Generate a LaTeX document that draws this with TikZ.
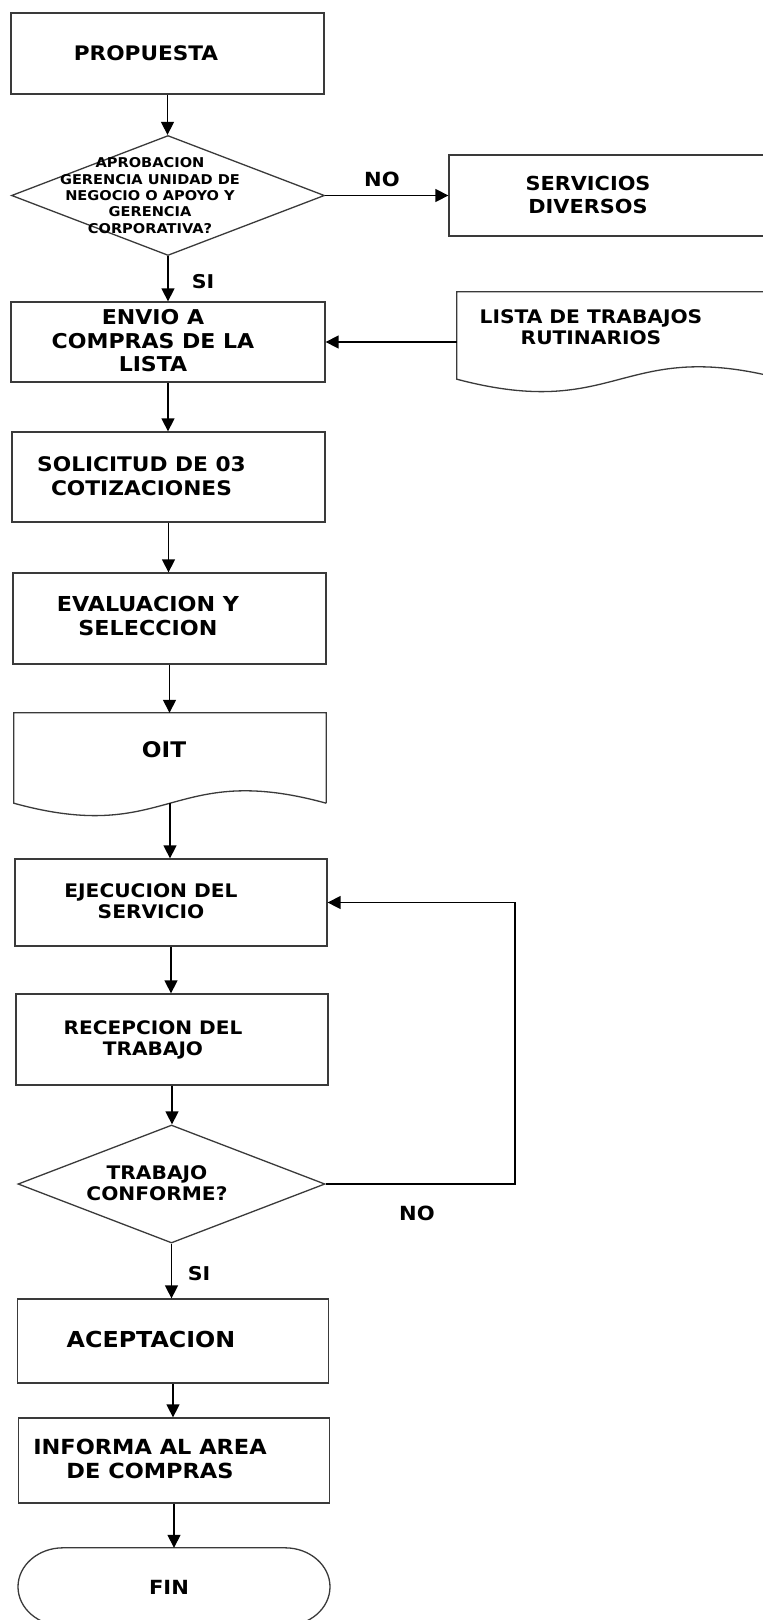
\documentclass[tikz,border=0pt]{standalone}
\usepackage{fontspec}
\setmainfont{DejaVu Sans}[FakeStretch=1.08]
\usetikzlibrary{shapes.geometric,arrows.meta,calc}

\definecolor{edgegray}{RGB}{58,58,58}
\newcommand\fsz[2]{\fontsize{#1}{#2}\selectfont\bfseries}

\tikzset{
  outline/.style={draw=edgegray, line width=1.3pt},
  stepbox/.style={outline, rectangle, inner sep=0pt},
  hollow/.style={rectangle, inner sep=0pt},
  decision/.style={outline, diamond, inner sep=0pt},
  arr/.style={draw=black, line width=1.4pt, -{Triangle[length=13pt,width=13pt]}},
  lbl/.style={align=center, inner sep=0pt, text depth=0pt, text=black},
}

\begin{document}
\begin{tikzpicture}[x=1pt,y=-1pt]
\clip (0,0) rectangle (763,1620);
\fill[white] (0,0) rectangle (763,1620);

% process boxes, decisions and document shapes
\node[stepbox, minimum width=313pt, minimum height=81pt] (prop) at (167.5,53.5) {};
\node[decision, minimum width=313pt, minimum height=120pt] (dec1) at (168,195.5) {};
\node[stepbox, minimum width=351pt, minimum height=81pt] (serv) at (624.5,195.5) {};
\node[stepbox, minimum width=314pt, minimum height=80pt] (envio) at (168,342) {};
\node[hollow, minimum width=326pt, minimum height=87pt] (lista) at (620,335.5) {};
\node[stepbox, minimum width=313pt, minimum height=90pt] (solic) at (168.5,477) {};
\node[stepbox, minimum width=313pt, minimum height=91pt] (evalua) at (169.5,618.5) {};
\node[hollow, minimum width=312pt, minimum height=90pt] (oit) at (170,758) {};
\node[stepbox, minimum width=312pt, minimum height=87pt] (ejec) at (171,902.5) {};
\node[stepbox, minimum width=312pt, minimum height=91pt] (recep) at (172,1039.5) {};
\node[decision, minimum width=307pt, minimum height=118pt] (dec2) at (171.5,1184) {};
\node[stepbox, minimum width=311pt, minimum height=84pt] (acept) at (173,1341) {};
\node[stepbox, minimum width=311pt, minimum height=85pt] (inform) at (174,1460.5) {};
\node[hollow, minimum width=312pt, minimum height=78pt] (fin) at (174,1587) {};

% document outlines with a wavy lower edge
\draw[outline] (lista.south east) -- (lista.north east) -- (lista.north west)
  -- (lista.south west) .. controls +(163,43) and +(-163,-43) .. (lista.south east);
\draw[outline] (oit.south east) -- (oit.north east) -- (oit.north west)
  -- (oit.south west) .. controls +(156,43) and +(-156,-43) .. (oit.south east);

% terminal outline: flat top, elliptic ends
\draw[outline] (fin.north) ++(-111,0) -- ++(222,0)
  .. controls +(24.8,0) and +(0,-21.5) .. ++(45,39)
  .. controls +(0,21.5) and +(24.8,0) .. ++(-45,39)
  -- ++(-222,0)
  .. controls +(-24.8,0) and +(0,21.5) .. ++(-45,-39)
  .. controls +(0,-21.5) and +(-24.8,0) .. ++(45,-39) -- cycle;

% texts
\node[lbl, font=\fsz{20}{24}] (tprop) at (146,53) {PROPUESTA};
\node[lbl, font=\fsz{13.5}{16.3}] (tdec1) at (150,195.5)
  {APROBACION\\GERENCIA UNIDAD DE\\NEGOCIO O APOYO Y\\GERENCIA\\CORPORATIVA?};
\node[lbl, font=\fsz{19.5}{23}] (tno1) at (382,179) {NO};
\node[lbl, font=\fsz{19.3}{23}] (tserv) at (588,194.5) {SERVICIOS\\DIVERSOS};
\node[lbl, font=\fsz{19}{23}] (tsi1) at (203,281) {SI};
\node[lbl, font=\fsz{20.4}{23.5}] (tenvio) at (153,340.5) {ENVIO A\\COMPRAS DE LA\\LISTA};
\node[lbl, font=\fsz{18.7}{21}] (tlista) at (591,327.5) {LISTA DE TRABAJOS\\RUTINARIOS};
\node[lbl, font=\fsz{20.1}{24}] (tsolic) at (141.5,476) {SOLICITUD DE 03\\COTIZACIONES};
\node[lbl, font=\fsz{20.6}{24}] (tevalua) at (148,616) {EVALUACION Y\\SELECCION};
\node[lbl, font=\fsz{21.5}{24}] (toit) at (164,750) {OIT};
\node[lbl, font=\fsz{18.7}{21}] (tejec) at (151,901.5) {EJECUCION DEL\\SERVICIO};
\node[lbl, font=\fsz{18.6}{21}] (trecep) at (153,1038.5) {RECEPCION DEL\\TRABAJO};
\node[lbl, font=\fsz{18.7}{21}] (tdec2) at (157,1183.5) {TRABAJO\\CONFORME?};
\node[lbl, font=\fsz{19.5}{23}] (tno2) at (417,1213) {NO};
\node[lbl, font=\fsz{19}{23}] (tsi2) at (199,1273) {SI};
\node[lbl, font=\fsz{22}{24}] (tacept) at (151,1339) {ACEPTACION};
\node[lbl, font=\fsz{20.8}{24}] (tinform) at (150,1459) {INFORMA AL AREA\\DE COMPRAS};
\node[lbl, font=\fsz{19.5}{23}] (tfin) at (169,1587) {FIN};

% connectors
\draw[arr] (prop.south) -- (prop.south |- dec1.north);
\draw[arr] (dec1.east) -- (serv.west);
\draw[arr] (dec1.south) -- (dec1.south |- envio.north);
\draw[arr] (lista.west |- envio.east) -- (envio.east);
\draw[arr] (envio.south) -- (envio.south |- solic.north);
\draw[arr] (solic.south) -- (solic.south |- evalua.north);
\draw[arr] (evalua.south) -- (evalua.south |- oit.north);
\draw[arr] (oit.south) -- (oit.south |- ejec.north);
\draw[arr] (ejec.south) -- (ejec.south |- recep.north);
\draw[arr] (recep.south) -- (recep.south |- dec2.north);
\coordinate (loopc) at (515,1184);
\draw[arr] (dec2.east) -- (loopc) |- (ejec.east);
\draw[arr] (dec2.south) -- (dec2.south |- acept.north);
\draw[arr] (acept.south) -- (acept.south |- inform.north);
\draw[arr] (inform.south) -- (inform.south |- fin.north);
\end{tikzpicture}
\end{document}
